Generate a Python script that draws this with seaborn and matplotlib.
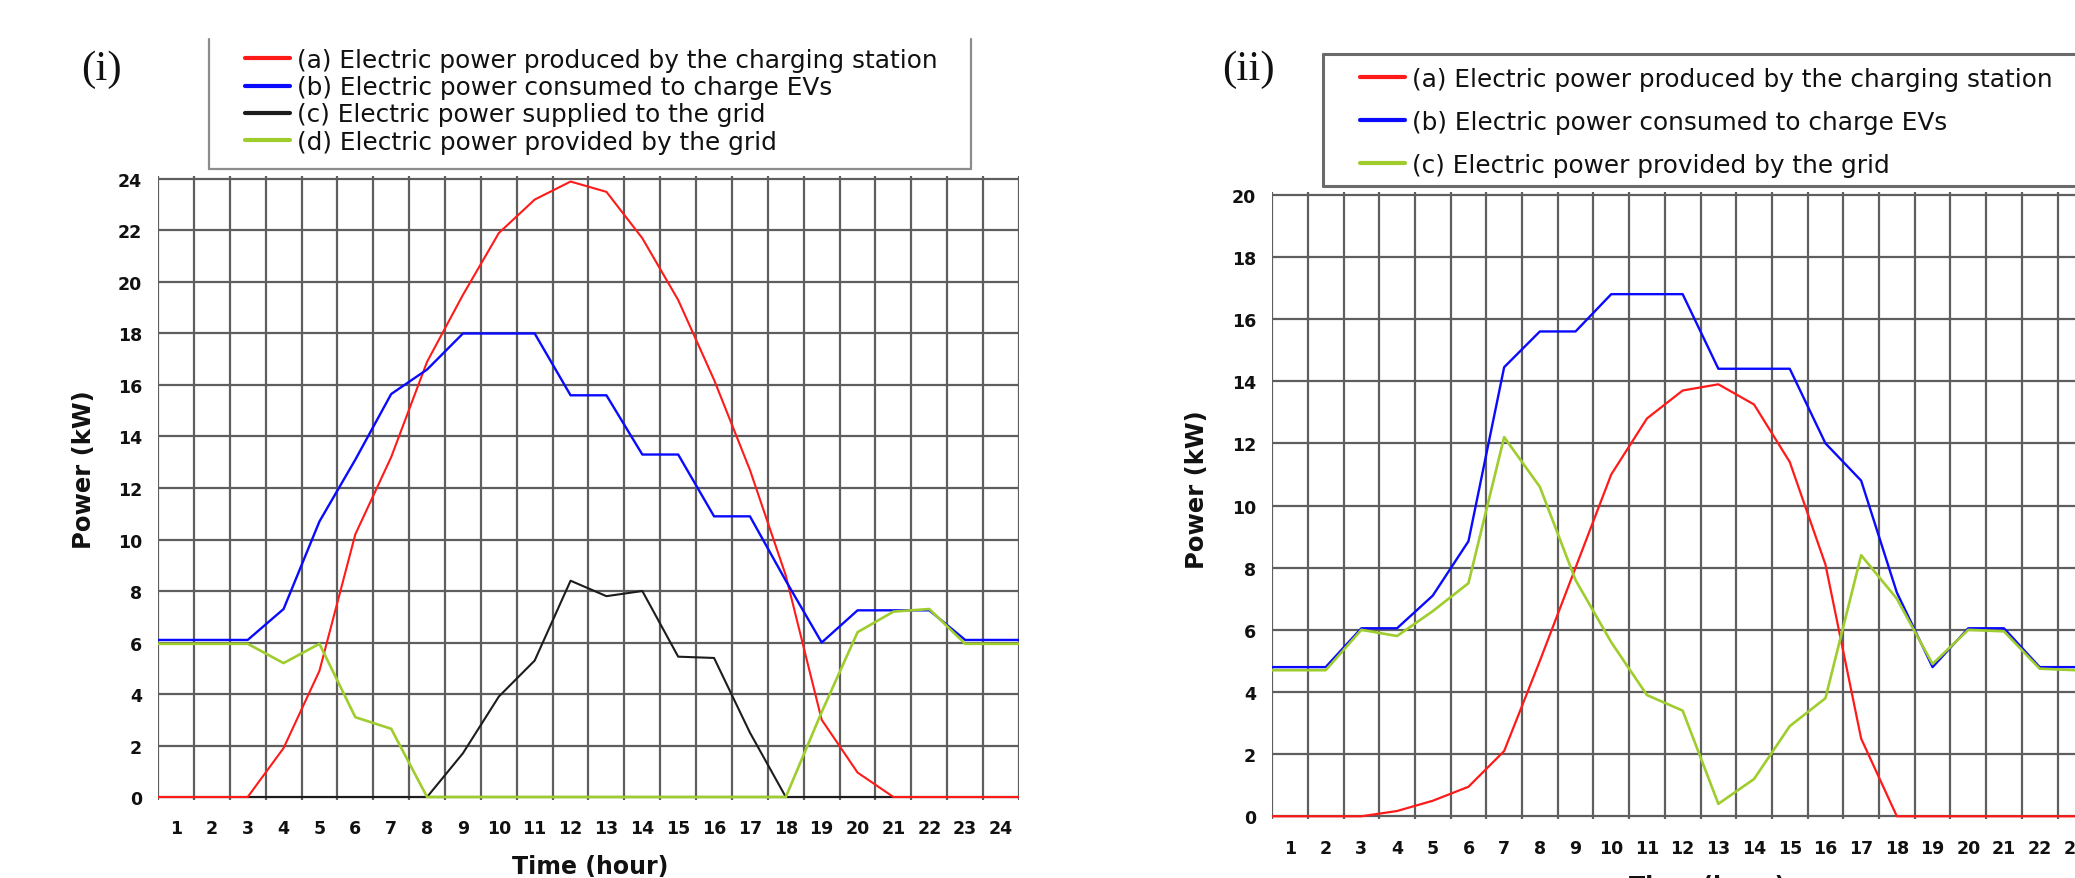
import numpy as np
import pandas as pd
import matplotlib
matplotlib.use("Agg")
import matplotlib.pyplot as plt
import seaborn as sns
from matplotlib.lines import Line2D

# ---------------- data ----------------
hours = list(range(1, 25))
hour_labels = [str(h) for h in hours]

# panel (i)
left_produced = [0, 0, 0, 1.9, 4.9, 10.2, 13.2, 16.9, 19.5, 21.9, 23.2, 23.9,
                 23.5, 21.7, 19.3, 16.2, 12.7, 8.6, 3.0, 0.95, 0, 0, 0, 0]
left_consumed = [6.1, 6.1, 6.1, 7.3, 10.7, 13.1, 15.65, 16.6, 18.0, 18.0, 18.0, 15.6,
                 15.6, 13.3, 13.3, 10.9, 10.9, 8.4, 6.0, 7.25, 7.25, 7.25, 6.1, 6.1]
left_supplied = [0, 0, 0, 0, 0, 0, 0, 0, 1.7, 3.9, 5.3, 8.4,
                 7.8, 8.0, 5.45, 5.4, 2.5, 0, 0, 0, 0, 0, 0, 0]
left_provided = [5.95, 5.95, 5.95, 5.2, 5.95, 3.1, 2.65, 0, 0, 0, 0, 0,
                 0, 0, 0, 0, 0, 0, 3.3, 6.4, 7.2, 7.3, 5.95, 5.95]

# panel (ii)
right_produced = [0, 0, 0, 0.17, 0.5, 0.95, 2.1, 5.0, 8.0, 11.0, 12.8, 13.7,
                  13.9, 13.25, 11.4, 8.1, 2.5, 0, 0, 0, 0, 0, 0, 0]
right_consumed = [4.8, 4.8, 6.05, 6.05, 7.1, 8.85, 14.45, 15.6, 15.6, 16.8, 16.8, 16.8,
                  14.4, 14.4, 14.4, 12.0, 10.8, 7.2, 4.8, 6.05, 6.05, 4.8, 4.8, 4.8]
right_provided = [4.7, 4.7, 6.0, 5.8, 6.6, 7.5, 12.2, 10.6, 7.6, 5.6, 3.9, 3.4,
                  0.4, 1.2, 2.9, 3.8, 8.4, 7.0, 4.9, 6.0, 5.95, 4.75, 4.7, 4.7]

left_names = ["(a) Electric power produced by the charging station",
              "(b) Electric power consumed to charge EVs",
              "(c) Electric power supplied to the grid",
              "(d) Electric power provided by the grid"]
right_names = ["(a) Electric power produced by the charging station",
               "(b) Electric power consumed to charge EVs",
               "(c) Electric power provided by the grid"]

# ---------------- style ----------------
sns.set_theme(style="white")
plt.rcParams['font.family'] = ['DejaVu Sans']

RED, BLUE, BLACK, GREEN = "#ff1a1a", "#0a0aff", "#1c1c1c", "#9fcd2e"
GRID = "#5e5e5e"
GLW = 1.6
TXT = "#111111"
TICK_FS = 12.5

W, H = 2075, 879
fig = plt.figure(figsize=(W / 100, H / 100), dpi=100)


def box(x0, y0, x1, y1):
    """pixel box (top-left origin) -> figure fraction rect"""
    return [x0 / W, 1 - y1 / H, (x1 - x0) / W, (y1 - y0) / H]


def fx(x):
    return x / W


def fy(y):
    return 1 - y / H


ext_hours = [hours[0] - 1] + hours + [hours[-1] + 1]


def wrap(v):
    # daily profile continues cyclically to both plot edges
    return [v[-1]] + list(v) + [v[0]]


def setup(ax, ymax):
    ax.set_xlim(hours[0] - 0.5, hours[-1] + 0.5)
    ax.set_ylim(-0.1, ymax + 0.1)
    ax.set_xticks(hours)
    ax.set_xticklabels(hour_labels, fontweight="bold", fontsize=TICK_FS)
    ax.set_xticks([h - 0.5 for h in hours] + [hours[-1] + 0.5], minor=True)
    ax.set_yticks(list(range(0, ymax + 1, 2)))
    ax.set_yticklabels([str(v) for v in range(0, ymax + 1, 2)], fontweight="bold", fontsize=TICK_FS)
    ax.grid(False)
    ax.xaxis.grid(True, which="minor", color=GRID, lw=GLW)
    ax.yaxis.grid(True, which="major", color=GRID, lw=GLW)
    ax.tick_params(axis="x", which="major", length=0, pad=14, colors=TXT)
    ax.tick_params(axis="x", which="minor", length=6, width=GLW, color=GRID, direction="out")
    ax.tick_params(axis="y", which="major", length=4.5, width=GLW, color=GRID,
                   direction="out", pad=7, labelcolor=TXT)
    for s in ax.spines.values():
        s.set_visible(False)
    ax.set_axisbelow(True)
    ax.set_xlabel("")
    ax.set_ylabel("")
    ax.set_facecolor("white")


# ---------------- panel (i) ----------------
axL = fig.add_axes(box(158, 177.4, 1019, 800.6))
left_series = [(left_supplied, BLACK, 1.5), (left_produced, RED, 1.5),
               (left_consumed, BLUE, 1.7), (left_provided, GREEN, 1.9)]
for vals, col, lw in left_series:
    sns.lineplot(x=ext_hours, y=wrap(vals), color=col, lw=lw, ax=axL, legend=False, zorder=3)
setup(axL, 24)

# ---------------- panel (ii) ----------------
axR = fig.add_axes(box(1272.1, 192.6, 2128.9, 820.4))
right_series = [(right_produced, RED, 1.6), (right_consumed, BLUE, 1.7),
                (right_provided, GREEN, 1.9)]
for vals, col, lw in right_series:
    sns.lineplot(x=ext_hours, y=wrap(vals), color=col, lw=lw, ax=axR, legend=False, zorder=3)
setup(axR, 20)

# ---------------- texts ----------------
ylab_kw = dict(rotation=90, ha="center", va="center", fontsize=17.5, fontweight="bold", color=TXT)
fig.text(fx(84), fy(470), "Power (kW)", **ylab_kw)
fig.text(fx(1197), fy(490), "Power (kW)", **ylab_kw)
xlab_kw = dict(ha="center", va="center", fontsize=17, fontweight="bold", color=TXT)
fig.text(fx(590), fy(867), "Time (hour)", **xlab_kw)
fig.text(fx(1707), fy(887), "Time (hour)", **xlab_kw)

pan_kw = dict(ha="center", va="center", fontsize=31, family=["Liberation Serif", "DejaVu Serif"],
              color=TXT)
fig.text(fx(101), fy(70), "(i)", **pan_kw)
fig.text(fx(1248), fy(70), "(ii)", **pan_kw)

# ---------------- legends ----------------
LEG_FS = 17.8
hL = [Line2D([], [], color=c, lw=3) for c in (RED, BLUE, BLACK, GREEN)]
legL = fig.legend(hL, left_names, loc="upper left", bbox_to_anchor=(fx(245), fy(49)),
                  frameon=False, borderpad=0, borderaxespad=0, handlelength=1.8,
                  handletextpad=0.29, labelspacing=0.13, fontsize=LEG_FS)
hR = [Line2D([], [], color=c, lw=3) for c in (RED, BLUE, GREEN)]
legR = fig.legend(hR, right_names, loc="upper left", bbox_to_anchor=(fx(1360), fy(68)),
                  frameon=False, borderpad=0, borderaxespad=0, handlelength=1.8,
                  handletextpad=0.29, labelspacing=0.77, fontsize=LEG_FS)
for lg in (legL, legR):
    for t in lg.get_texts():
        t.set_color(TXT)

# legend frames (left one is open at the top, right one runs off the page)
frameL = "#8c8c8c"
for xs, ys in [((209, 209), (40, 170)), ((971, 971), (40, 170)), ((209, 971), (170, 170))]:
    fig.add_artist(Line2D([fx(x) for x in xs], [fy(y) for y in ys], color=frameL, lw=1.6,
                          transform=fig.transFigure))
frameR = "#6a6a6a"
for xs, ys in [((1323, 1323), (55, 187)), ((1323, 2080), (55, 55)), ((1323, 2080), (187, 187))]:
    fig.add_artist(Line2D([fx(x) for x in xs], [fy(y) for y in ys], color=frameR, lw=2.2,
                          transform=fig.transFigure))

fig.savefig("out.png", dpi=100, facecolor="white")
